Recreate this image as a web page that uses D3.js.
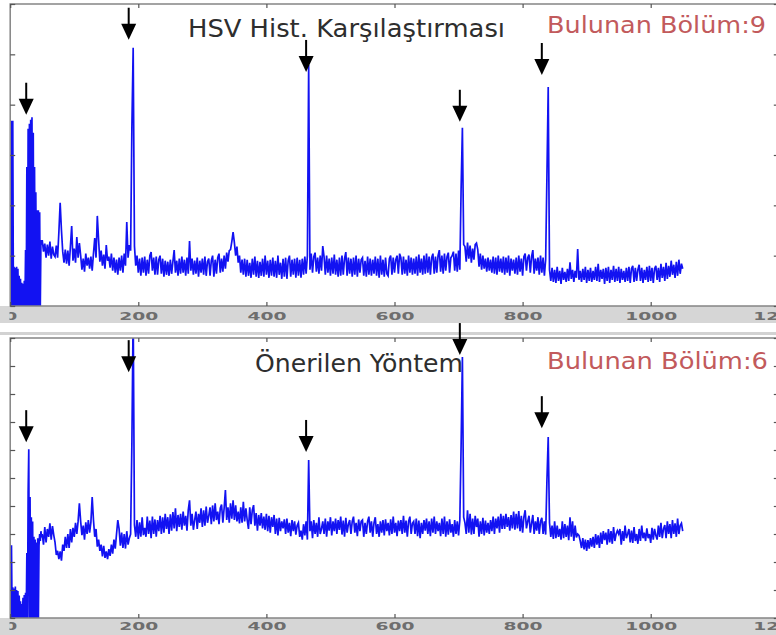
<!DOCTYPE html>
<html><head><meta charset="utf-8">
<script src="https://cdn.jsdelivr.net/npm/d3@7"></script>
<style>
html,body{margin:0;padding:0;background:#fff;}
svg{display:block;}
</style></head><body>
<svg id="chart" width="776" height="635"></svg>
<script>
// x axis (frame number) ticks
const xTicks = [0, 200, 400, 600, 800, 1000, 1200];
const topYTicks = [0, 100, 200, 300, 400, 500, 600];
const bottomYTicks = [0, 100, 200, 300, 400, 500, 600, 700, 800, 900, 1000];

// frames 0..49, one value per frame
const topHead = [185,0,368,0,368,0,78,0,76,0,78,0,74,0,60,0,54,0,46,0,44,0,50,0,111,0,276,0,352,0,
  362,0,370,0,375,0,344,0,276,0,226,0,190,0,190,0,186,0,131,122];
// frames 50..1050, every second frame
const topTail = [
  131,108,124,96,122,100,128,94,118,102, 98,120,96,147,205,151,108,86,112,84,
  110,80,118,159,90,114,86,137,96,125, 100,72,94,68,104,80,96,74,98,70,
  104,135,96,179,131,88,110,80,102,74, 121,90,98,76,104,70,96,66,92,62,
  96,70,100,66,104,80,167,96,121,110, 358,513,119,80,100,66,94,60,96,66,
  98,60,92,64,100,107,70,96,62,98, 62,92,100,64,94,58,90,62,88,60,
  92,64,88,111,66,90,60,94,64,98, 66,92,60,96,64,129,70,94,62,90,
  64,96,58,90,66,94,62,98,60,88, 94,60,90,100,58,92,64,96,104,66,
  94,68,100,74,106,88,110,112,128,147, 126,100,118,86,100,66,92,62,94,58,
  92,60,86,56,94,62,98,58,90,56, 88,60,94,58,100,62,90,56,92,60,
  96,58,90,56,100,62,86,54,94,58, 96,54,90,100,58,92,62,94,56,96,
  60,92,56,94,62,98,64,100,479,72, 104,66,98,106,68,96,64,100,70,119,
  98,62,100,66,94,60,96,64,102,62, 92,58,96,60,100,62,94,107,60,96,
  64,94,58,96,62,100,58,94,66,92, 96,60,90,58,98,62,94,60,92,64,
  98,60,94,56,100,62,92,58,96,64, 60,94,100,62,96,66,92,100,64,104,
  96,62,98,64,92,60,100,66,96,62, 94,64,98,60,102,66,94,62,100,64,
  104,66,98,62,96,104,64,98,66,100, 111,68,100,64,104,70,98,106,66,96,
  100,108,70,104,68,110,72,234,354,122, 118,88,126,94,120,86,114,92,122,125,
  112,78,104,72,100,74,94,68,96,70, 92,66,98,64,96,62,100,68,94,66,
  98,62,96,66,100,60,94,70,92,64, 96,62,100,68,94,60,98,104,70,96,
  102,66,98,111,64,94,70,96,62,100, 66,96,60,92,260,435,72,50,76,48,
  72,46,78,50,70,44,76,52,68,48, 74,50,87,54,72,48,70,56,113,52,
  70,48,74,52,78,46,72,50,76,48, 70,52,78,50,84,48,72,54,74,44,
  76,50,78,46,72,52,80,48,74,50, 78,46,74,52,70,48,76,50,78,46,
  74,80,48,76,50,72,82,50,76,46, 72,52,78,48,80,50,76,46,74,80,
  52,76,48,84,56,78,50,86,54,80, 58,90,62,82,56,88,60,92,64,84,
  74];

const bottomHead = [260,0,260,0,110,0,105,0,112,0,100,0,96,0,80,0,60,0,50,0,72,0,82,0,90,0,232,0,450,603,
  0,432,0,360,0,345,0,290,0,280,0,270,0,285,0,260,300,275,310,288];
const bottomTail = [
  300,262,325,270,318,290,338,280,328,296, 270,225,240,210,238,205,262,240,290,250,
  300,250,318,270,322,290,340,300,345,410, 345,296,330,280,342,300,350,305,342,432,
  350,290,318,255,280,240,262,220,258,215, 238,210,246,222,262,230,280,248,300,350,
  318,258,305,250,300,248,310,262,285,300, 628,1100,332,290,350,282,342,290,360,296,
  322,290,362,300,348,285,362,300,352,290, 350,310,365,300,360,305,372,318,360,300,
  370,312,378,320,392,310,368,325,372,315, 380,330,365,312,385,420,330,372,315,350,
  380,318,372,340,392,325,385,330,398,340, 365,395,335,402,345,410,350,380,335,392,
  405,340,392,457,350,395,340,410,355,420, 350,402,345,380,338,395,340,415,345,392,
  350,318,395,335,385,403,330,375,312,368, 330,375,320,362,315,372,310,365,305,360,
  325,368,300,355,295,358,310,345,320,352, 300,355,305,340,292,350,310,345,298,330,
  340,290,312,280,335,295,345,280,564,310, 345,285,350,300,340,290,360,300,318,345,
  300,355,290,345,312,360,295,345,310,355, 300,350,315,362,298,348,290,358,305,335,
  350,300,345,362,305,340,292,352,310,345, 350,290,340,300,345,362,305,345,290,340,
  360,300,335,290,345,305,350,295,352,310, 340,295,352,300,362,305,340,292,348,310,
  350,300,365,305,348,290,345,362,300,338, 345,300,355,292,348,285,340,300,350,312,
  355,300,345,292,355,305,362,300,345,310, 340,292,355,300,362,290,345,298,352,305,
  335,290,350,300,345,295,350,618,932,360, 340,300,385,305,372,298,355,300,365,325,
  355,290,345,300,358,295,348,305,340,300, 350,310,362,300,355,320,362,305,372,318,
  365,318,372,325,360,312,368,320,380,315, 372,320,382,310,365,305,360,385,320,345,
  365,305,338,368,300,345,312,360,300,345, 358,300,345,298,493,646,340,290,330,282,
  345,285,330,290,318,280,345,285,335,290, 330,278,360,290,345,275,330,288,300,295,
  275,250,285,245,280,240,278,248,285,255, 290,250,300,262,295,250,305,265,310,278,
  305,262,318,270,310,265,325,275,300,312, 300,318,262,310,275,330,285,300,318,270,
  312,268,325,275,300,265,318,275,330,285, 305,275,320,285,300,268,322,280,318,295,
  280,330,290,340,285,318,332,285,345,300, 335,285,350,300,338,290,355,300,330,338,
  310];

// detected cut markers: frame and arrow tip value in each panel
const arrowFrames = [25, 185, 462, 702, 830];
const topArrowTips = [380, 529, 465, 366, 459];
const bottomArrowTips = [628, 878, 593, 939, 678];

const titles = ["HSV Hist. Karşılaştırması", "Önerilen Yöntem"];
const counts = ["Bulunan Bölüm:9", "Bulunan Bölüm:6"];

function buildSeries(head, tail) {
  const pts = head.map((v, i) => ({ f: i, v }));
  tail.forEach((v, i) => pts.push({ f: head.length + 2 * i, v }));
  return pts;
}

const svg = d3.select("#chart");
const W = 776;
const x = d3.scaleLinear().domain([0, 1200]).range([10.2, 778.8]);

const panels = [
  { id: "p1", top: 4, bottom: 306, yMax: 600, yTicks: topYTicks, data: buildSeries(topHead, topTail),
    tips: topArrowTips, title: titles[0], titleX: 188, titleY: 37, titleLen: 317,
    count: counts[0], countY: 33, countLen: 219, labelPad: 6 },
  { id: "p2", top: 338, bottom: 618, yMax: 1000, yTicks: bottomYTicks, data: buildSeries(bottomHead, bottomTail),
    tips: bottomArrowTips, title: titles[1], titleX: 255, titleY: 372, titleLen: 208,
    count: counts[1], countY: 369, countLen: 221, labelPad: 4 }
];

// thin grey strip separating the two figures
svg.append("rect").attr("x", 0).attr("y", 332).attr("width", W).attr("height", 3).attr("fill", "#d2d2d2");

panels.forEach(p => {
  const y = d3.scaleLinear().domain([0, p.yMax]).range([p.bottom, p.top]);
  const g = svg.append("g");

  // tick label band
  g.append("rect").attr("x", 0).attr("y", p.bottom).attr("width", W).attr("height", 17).attr("fill", "#d6d6d6");

  const clipId = "clip-" + p.id;
  svg.append("defs").append("clipPath").attr("id", clipId)
    .append("rect").attr("x", x(0)).attr("y", p.top)
    .attr("width", x(1200) - x(0)).attr("height", p.bottom - p.top);
  // label clip, in the local space of the translated axis group
  const labelClip = "lclip-" + p.id;
  svg.append("defs").append("clipPath").attr("id", labelClip)
    .append("rect").attr("x", 9.5).attr("y", -6).attr("width", W).attr("height", 26);

  const line = d3.line().x(d => x(d.f)).y(d => y(d.v));
  g.append("path").datum(p.data)
    .attr("clip-path", `url(#${clipId})`)
    .attr("d", line)
    .attr("fill", "none")
    .attr("stroke", "#1212f2")
    .attr("stroke-width", 1.7)
    .attr("stroke-linejoin", "miter");

  // axes box
  g.append("rect").attr("x", x(0)).attr("y", p.top)
    .attr("width", x(1200) - x(0)).attr("height", p.bottom - p.top)
    .attr("fill", "none").attr("stroke", "#858585").attr("stroke-width", 1.5);

  const styleAxis = sel => {
    sel.select(".domain").remove();
    sel.selectAll(".tick line").attr("stroke", "#555").attr("stroke-width", 1.2);
  };

  const xb = g.append("g").attr("transform", `translate(0,${p.bottom})`)
    .attr("clip-path", `url(#${labelClip})`)
    .call(d3.axisBottom(x).tickValues(xTicks).tickFormat(d3.format("d"))
      .tickSizeInner(-4).tickSizeOuter(0).tickPadding(p.labelPad))
    .call(styleAxis);
  xb.selectAll(".tick text")
    .attr("font-family", "DejaVu Sans, Verdana, sans-serif")
    .attr("font-size", 11)
    .attr("font-weight", "bold")
    .attr("fill", "#6e6e6e")
    .attr("transform", "scale(1.7,1)");

  g.append("g").attr("transform", `translate(0,${p.top})`)
    .call(d3.axisTop(x).tickValues(xTicks).tickSizeInner(-4).tickSizeOuter(0).tickFormat(""))
    .call(styleAxis);
  g.append("g").attr("transform", `translate(${x(0)},0)`)
    .call(d3.axisLeft(y).tickValues(p.yTicks).tickSizeInner(-5).tickSizeOuter(0).tickFormat(""))
    .call(styleAxis);
  g.append("g").attr("transform", `translate(${x(1200)},0)`)
    .call(d3.axisRight(y).tickValues(p.yTicks).tickSizeInner(-5).tickSizeOuter(0).tickFormat(""))
    .call(styleAxis);

  // titles
  g.append("text").attr("x", p.titleX).attr("y", p.titleY)
    .attr("font-family", "DejaVu Sans, Verdana, sans-serif").attr("font-size", 25)
    .attr("fill", "#2e2e2e")
    .attr("textLength", p.titleLen).attr("lengthAdjust", "spacingAndGlyphs")
    .text(p.title);
  g.append("text").attr("x", 547).attr("y", p.countY)
    .attr("font-family", "DejaVu Sans, Verdana, sans-serif").attr("font-size", 23)
    .attr("fill", "#c25a5c")
    .attr("textLength", p.countLen).attr("lengthAdjust", "spacingAndGlyphs")
    .text(p.count);

  // arrows marking detected cuts
  const arrows = g.append("g").selectAll("g").data(arrowFrames.map((f, i) => ({ f, v: p.tips[i] })))
    .join("g");
  arrows.append("line")
    .attr("x1", d => x(d.f)).attr("x2", d => x(d.f))
    .attr("y1", d => y(d.v) - 32).attr("y2", d => y(d.v) - 14)
    .attr("stroke", "#000").attr("stroke-width", 2);
  arrows.append("path")
    .attr("d", d => {
      const ax = x(d.f), ay = y(d.v);
      return `M${ax - 7.5},${ay - 16}L${ax + 7.5},${ay - 16}L${ax},${ay}Z`;
    })
    .attr("fill", "#000");
});
</script>
</body></html>
